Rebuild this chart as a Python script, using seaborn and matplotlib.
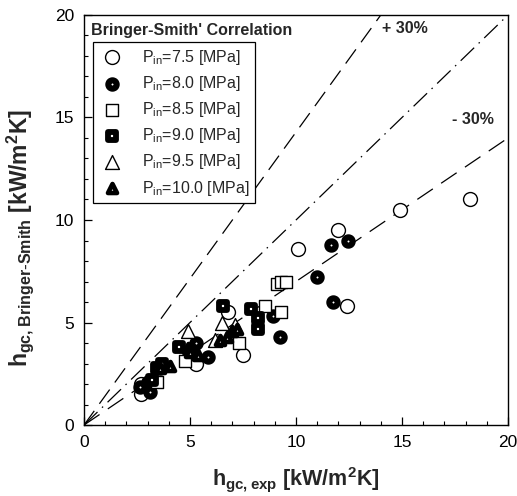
import numpy as np
import pandas as pd
import matplotlib
matplotlib.use("Agg")
import matplotlib.pyplot as plt
import seaborn as sns

# ---------- data ----------
x_75 = [2.7, 2.7, 5.3, 6.8, 7.5, 10.1, 12.0, 12.4, 14.9, 18.2]
y_75 = [1.5, 2.0, 3.0, 5.5, 3.4, 8.6, 9.5, 5.8, 10.5, 11.0]

x_80 = [2.65, 3.0, 3.1, 3.6, 5.1, 5.3, 5.85, 8.9, 9.25, 11.0, 11.65, 11.75, 12.45]
y_80 = [1.85, 2.1, 1.6, 2.8, 3.5, 4.0, 3.3, 5.3, 4.3, 7.2, 8.8, 6.0, 9.0]

x_85 = [3.45, 4.75, 7.3, 8.55, 9.1, 9.3, 9.55, 9.3]
y_85 = [2.1, 3.1, 4.0, 5.8, 6.9, 7.0, 7.0, 5.5]

x_90 = [3.2, 3.45, 3.7, 4.5, 6.55, 7.9, 8.2, 8.2]
y_90 = [2.2, 2.8, 3.0, 3.8, 5.8, 5.65, 5.2, 4.7]

x_95 = [4.9, 6.2, 6.5, 7.1]
y_95 = [4.6, 4.15, 5.0, 4.9]

x_100 = [3.6, 4.05, 4.9, 5.0, 5.4, 6.4, 6.75, 7.0, 7.2]
y_100 = [2.8, 2.9, 3.75, 3.55, 3.4, 4.15, 4.3, 4.6, 4.7]

pressures = ["7.5", "8.0", "8.5", "9.0", "9.5", "10.0"]
xs = [x_75, x_80, x_85, x_90, x_95, x_100]
ys = [y_75, y_80, y_85, y_90, y_95, y_100]

rows = []
for p, xv, yv in zip(pressures, xs, ys):
    for a, b in zip(xv, yv):
        rows.append({"P": p, "h_exp": a, "h_bs": b})
df = pd.DataFrame(rows)

line_x = np.array([0, 20])
dev = 0.30

# ---------- style ----------
sns.set_style("ticks")
plt.rcParams["font.family"] = ["Liberation Sans", "DejaVu Sans"]
plt.rcParams["mathtext.default"] = "regular"

fig = plt.figure(figsize=(5.17, 4.96), dpi=100)
ax = fig.add_axes([0.1625, 0.1431, 0.8201, 0.8267])

# marker settings: (marker, size, edge linewidth); "filled" ones are thick rings
# with a small white hole in the middle
styles = {
    "7.5": ("o", 100, 1.0),
    "8.0": ("o", 36, 4.4),
    "8.5": ("s", 80, 1.0),
    "9.0": ("s", 28, 4.2),
    "9.5": ("^", 100, 1.0),
    "10.0": ("^", 42, 3.3),
}

for p in pressures:
    m, s, lw = styles[p]
    sns.scatterplot(
        data=df[df["P"] == p], x="h_exp", y="h_bs",
        marker=m, s=s, facecolor="white", edgecolor="black", linewidth=lw,
        label="P$_{in}$=" + p + " [MPa]", ax=ax, zorder=3
    )

# reference lines: +30% (y = x/0.7), 1:1, -30% (y = 0.7 x)
ax.plot(line_x, line_x / (1 - dev), color="black", lw=0.9, dashes=(14, 7))
ax.plot(line_x, line_x, color="black", lw=0.9, dashes=(15, 5, 1.2, 5))
ax.plot(line_x, line_x * (1 - dev), color="black", lw=0.9, dashes=(15, 8))

ax.text(14.05, 19.1, "+ 30%", fontsize=11.5, fontweight="bold")
ax.text(17.35, 14.7, "- 30%", fontsize=11.5, fontweight="bold")
ax.text(0.35, 19.0, "Bringer-Smith' Correlation", fontsize=11.5, fontweight="bold")

ax.set_xlim(0, 20)
ax.set_ylim(0, 20)
ax.set_xticks([0, 5, 10, 15, 20])
ax.set_yticks([0, 5, 10, 15, 20])
ax.set_xticks(np.arange(0, 21, 1), minor=True)
ax.set_yticks(np.arange(0, 21, 1), minor=True)
ax.tick_params(which="both", direction="in", labelsize=12.5, colors="black")
ax.tick_params(which="major", length=6, width=0.9, pad=7)
ax.tick_params(which="minor", length=3, width=0.8)
for sp in ax.spines.values():
    sp.set_linewidth(1.0)
    sp.set_color("black")

ax.set_xlabel("h$_{gc,exp}$ [kW/m$^{2}$K]", fontsize=15.5, fontweight="bold", labelpad=11)
ax.set_ylabel("h$_{gc,Bringer\\text{-}Smith}$ [kW/m$^{2}$K]", fontsize=16.5,
              fontweight="bold")
ax.yaxis.set_label_coords(-0.113, 0.455)

leg = ax.legend(loc="upper left", bbox_to_anchor=(0.021, 0.934), borderaxespad=0,
                fontsize=11.5, frameon=True, fancybox=False, edgecolor="black",
                framealpha=1, labelspacing=0.45, handletextpad=1.0,
                borderpad=0.35, handlelength=1.7)
leg.get_frame().set_linewidth(0.9)

fig.savefig("out.png", dpi=100)
